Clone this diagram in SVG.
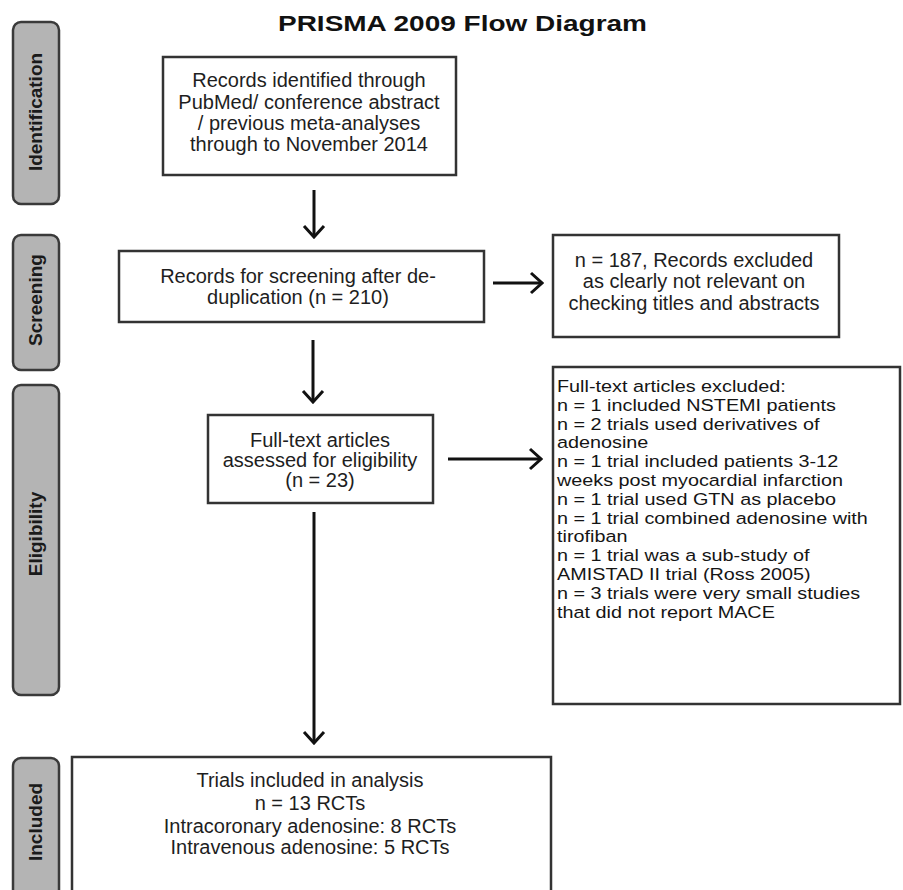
<svg xmlns="http://www.w3.org/2000/svg" width="903" height="890" viewBox="0 0 903 890">
<style>
.bg{fill:#ffffff}
.tab{fill:#b4b4b4;stroke:#3a3a3a;stroke-width:2.5}
.tabt{font-family:"Liberation Sans",Arial,sans-serif;font-weight:bold;font-size:19px;fill:#1a1a1a;text-anchor:middle}
.box{fill:#ffffff;stroke:#333333;stroke-width:2.5}
.t{font-family:"Liberation Sans",Arial,sans-serif;font-size:20px;fill:#1e1e1e;text-anchor:middle}
.tl{font-family:"Liberation Sans",Arial,sans-serif;font-size:16.5px;fill:#151515}
.title{font-family:"Liberation Sans",Arial,sans-serif;font-weight:bold;font-size:22px;fill:#111111;text-anchor:middle}
.arr{stroke:#111111;stroke-width:3;fill:none;marker-end:url(#ah)}
</style>
<defs>
<marker id="ah" markerUnits="userSpaceOnUse" viewBox="-14 -12 16 24" refX="0" refY="0" markerWidth="16" markerHeight="24" orient="auto">
<path d="M-11,-10 L0,0 L-11,10" fill="none" stroke="#111111" stroke-width="3"/>
</marker>
</defs>
<rect class="bg" x="0" y="0" width="903" height="890"/>
<text class="title" x="462.5" y="31" textLength="369" lengthAdjust="spacingAndGlyphs">PRISMA 2009 Flow Diagram</text>

<g id="tab-identification">
<rect class="tab" x="13" y="22" width="46" height="182" rx="8"/>
<text class="tabt" transform="translate(42,112) rotate(-90)">Identification</text>
</g>
<g id="tab-screening">
<rect class="tab" x="13" y="235" width="46" height="135" rx="8"/>
<text class="tabt" transform="translate(42,300) rotate(-90)">Screening</text>
</g>
<g id="tab-eligibility">
<rect class="tab" x="13" y="385" width="46" height="310" rx="8"/>
<text class="tabt" transform="translate(42,534) rotate(-90)">Eligibility</text>
</g>
<g id="tab-included">
<rect class="tab" x="13" y="758" width="46" height="145" rx="8"/>
<text class="tabt" transform="translate(42,822) rotate(-90)">Included</text>
</g>

<g id="records-identified">
<rect class="box" x="163" y="57" width="293" height="118"/>
<text class="t" x="309" y="87">Records identified through</text>
<text class="t" x="309" y="108.5">PubMed/ conference abstract</text>
<text class="t" x="309" y="130">/ previous meta-analyses</text>
<text class="t" x="309" y="151">through to November 2014</text>
</g>

<g id="records-screening">
<rect class="box" x="119" y="251" width="365" height="71"/>
<text class="t" x="298" y="283">Records for screening after de-</text>
<text class="t" x="298" y="304">duplication (n = 210)</text>
</g>

<g id="records-excluded">
<rect class="box" x="553" y="235" width="286" height="102"/>
<text class="t" x="694" y="267">n = 187, Records excluded</text>
<text class="t" x="694" y="288">as clearly not relevant on</text>
<text class="t" x="694" y="310">checking titles and abstracts</text>
</g>

<g id="fulltext-assessed">
<rect class="box" x="208" y="415" width="225" height="88"/>
<text class="t" x="320" y="447">Full-text articles</text>
<text class="t" x="320" y="467">assessed for eligibility</text>
<text class="t" x="320" y="487">(n = 23)</text>
</g>

<g id="fulltext-excluded">
<rect class="box" x="553" y="367" width="347" height="337"/>
<g transform="translate(557,0) scale(1.2,1)">
<text class="tl" x="0" y="392">Full-text articles excluded:</text>
<text class="tl" x="0" y="410.8">n = 1 included NSTEMI patients</text>
<text class="tl" x="0" y="429.6">n = 2 trials used derivatives of</text>
<text class="tl" x="0" y="448.4">adenosine</text>
<text class="tl" x="0" y="467.2">n = 1 trial included patients 3-12</text>
<text class="tl" x="0" y="486">weeks post myocardial infarction</text>
<text class="tl" x="0" y="504.8">n = 1 trial used GTN as placebo</text>
<text class="tl" x="0" y="523.6">n = 1 trial combined adenosine with</text>
<text class="tl" x="0" y="542.4">tirofiban</text>
<text class="tl" x="0" y="561.2">n = 1 trial was a sub-study of</text>
<text class="tl" x="0" y="580">AMISTAD II trial (Ross 2005)</text>
<text class="tl" x="0" y="598.8">n = 3 trials were very small studies</text>
<text class="tl" x="0" y="617.6">that did not report MACE</text>
</g>
</g>

<g id="trials-included">
<rect class="box" x="72" y="757" width="479" height="150"/>
<text class="t" x="310" y="787">Trials included in analysis</text>
<text class="t" x="310" y="810">n = 13 RCTs</text>
<text class="t" x="310" y="833">Intracoronary adenosine: 8 RCTs</text>
<text class="t" x="310" y="854">Intravenous adenosine: 5 RCTs</text>
</g>

<g id="connectors">
<line class="arr" x1="314" y1="190" x2="314" y2="237"/>
<line class="arr" x1="493" y1="283" x2="542" y2="283"/>
<line class="arr" x1="313" y1="340" x2="313" y2="402"/>
<line class="arr" x1="448" y1="459" x2="541" y2="459"/>
<line class="arr" x1="314" y1="512" x2="314" y2="743"/>
</g>
</svg>
